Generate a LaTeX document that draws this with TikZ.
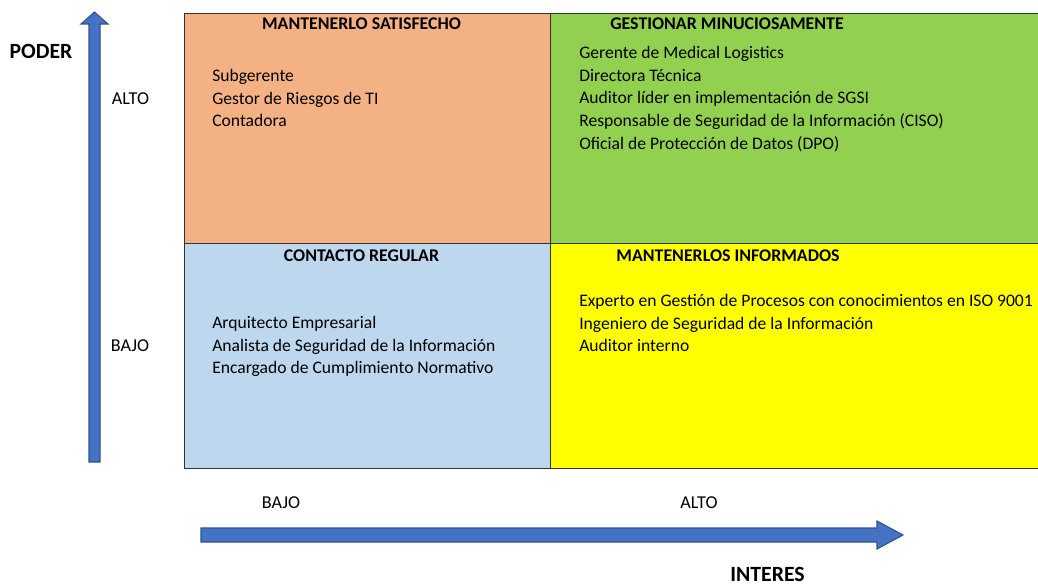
\documentclass[tikz,border=0pt]{standalone}
\usepackage{fontspec}
\setmainfont{Carlito}
\usetikzlibrary{positioning}
\definecolor{salmon}{HTML}{F4B183}
\definecolor{grassgreen}{HTML}{92D050}
\definecolor{paleblue}{HTML}{BDD7EE}
\definecolor{brightyellow}{HTML}{FFFF00}
\definecolor{axisblue}{HTML}{4472C4}
\definecolor{axisedge}{HTML}{2F528F}
\begin{document}
\begin{tikzpicture}[x=0.75pt,y=-0.75pt]
\tikzstyle{quad}=[rectangle, draw=black!80, line width=0.8pt, inner sep=0, anchor=north west]
\tikzstyle{title}=[font=\fontsize{13.4}{16}\selectfont\bfseries, inner sep=0, text height=8.6pt, text depth=0pt]
\tikzstyle{item}=[font=\fontsize{13.2}{16}\selectfont, anchor=west, inner sep=0, text height=8.5pt, text depth=0pt]
\tikzstyle{axislabel}=[font=\fontsize{13.6}{16}\selectfont, inner sep=0, text height=8.7pt, text depth=0pt]
\tikzstyle{axisname}=[font=\fontsize{16.3}{19}\selectfont\bfseries, inner sep=0, text height=10.5pt, text depth=0pt]
\tikzstyle{axis}=[fill=axisblue, draw=axisedge, line width=0.8pt, line join=miter]
\useasboundingbox (0,0) rectangle (1038,585);
	% quadrants
	\node[quad, fill=salmon, minimum width=274.5pt, minimum height=172.5pt] (q1) at (184,13) { };
	\node[quad, fill=grassgreen, minimum width=370pt, minimum height=172.5pt] (q2) at (550,13) { };
	\node[quad, fill=paleblue, minimum width=274.5pt, minimum height=168.75pt] (q3) at (184,243) { };
	\node[quad, fill=brightyellow, minimum width=370pt, minimum height=168.75pt] (q4) at (550,243) { };
	\node[title] (t1) at (361.5,24) {MANTENERLO SATISFECHO};
	\node[title] (t2) at (727,24) {GESTIONAR MINUCIOSAMENTE};
	\node[title] (t3) at (361.5,256) {CONTACTO REGULAR};
	\node[title] (t4) at (728,256) {MANTENERLOS INFORMADOS};
	% lists
	\foreach \t [count=\i] in {Subgerente, Gestor de Riesgos de TI, Contadora}
		\node[item] (a\i) at (212,76+22.6*\i-22.6) {\t};
	\foreach \t [count=\i] in {Gerente de Medical Logistics, Directora Técnica, Auditor líder en implementación de SGSI, {Responsable de Seguridad de la Información (CISO)}, {Oficial de Protección de Datos (DPO)}}
		\node[item] (b\i) at (579,53+22.6*\i-22.6) {\t};
	\foreach \t [count=\i] in {Arquitecto Empresarial, Analista de Seguridad de la Información, Encargado de Cumplimiento Normativo}
		\node[item] (c\i) at (212,323+22.6*\i-22.6) {\t};
	\foreach \t [count=\i] in {Experto en Gestión de Procesos con conocimientos en ISO 9001, Ingeniero de Seguridad de la Información, Auditor interno}
		\node[item] (d\i) at (579,301+22.6*\i-22.6) {\t};
	% axes
	\draw[axis] (89,462) -- (89,24) -- (81,24) -- (94.5,12) -- (108,24) -- (100,24) -- (100,462) -- cycle;
	\draw[axis] (201,528) -- (877,528) -- (877,521) -- (903,535) -- (877,549) -- (877,542) -- (201,542) -- cycle;
	\node[axisname] (poder) at (41,52) {PODER};
	\node[axislabel] (altoy) at (130.5,99) {ALTO};
	\node[axislabel] (bajoy) at (130,346) {BAJO};
	\node[axislabel] (bajox) at (281,503) {BAJO};
	\node[axislabel] (altox) at (699,503) {ALTO};
	\node[axisname] (interes) at (767.5,574) {INTERES};
\end{tikzpicture}
\end{document}
